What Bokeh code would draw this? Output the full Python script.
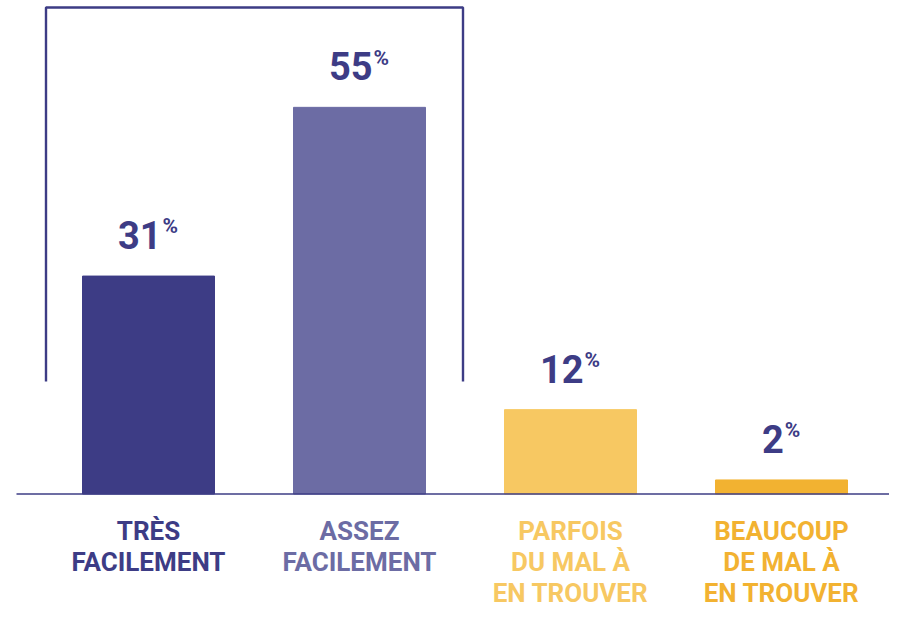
from bokeh.plotting import figure
from bokeh.models import ColumnDataSource, Range1d
from bokeh.core.properties import value
from bokeh.embed import file_html
from bokeh.resources import INLINE

# ---- data ----
categories = ["TRÈS\nFACILEMENT", "ASSEZ\nFACILEMENT", "PARFOIS\nDU MAL À\nEN TROUVER", "BEAUCOUP\nDE MAL À\nEN TROUVER"]
values = [31, 55, 12, 2]
bar_colors = ["#3d3c85", "#6c6ca4", "#f7c862", "#f2b231"]
label_colors = ["#3d3c85", "#6c6ca4", "#f7c862", "#f2b231"]
pct_labels = ["31", "55", "12", "2"]

DARK = "#3d3c85"
FONT = "Roboto"
BASE_FIX = 0.37  # renderer places 'alphabetic' baseline lower by ~0.37 em

W, H = 889, 609
px_per_unit = 211.0
px_per_pct = 7.03
x_start = -148 / px_per_unit
x_end = x_start + W / px_per_unit
y_top = 493.5 / px_per_pct
y_bot = y_top - H / px_per_pct

p = figure(width=W, height=H, output_backend="svg", toolbar_location=None,
           x_range=Range1d(x_start, x_end), y_range=Range1d(y_bot, y_top),
           min_border=0, min_border_left=0, min_border_right=0,
           min_border_top=0, min_border_bottom=0)
p.axis.visible = False
p.grid.visible = False
p.outline_line_color = None
p.background_fill_color = "white"
p.border_fill_color = "white"

xs = list(range(len(values)))
src = ColumnDataSource(dict(x=xs, top=values, color=bar_colors))
p.vbar(x="x", top="top", bottom=0, width=132 / px_per_unit, color="color", source=src)

# baseline
p.segment(x0=[(16 - 148) / px_per_unit], y0=[0], x1=[x_end], y1=[0],
          line_color=DARK, line_width=1.3)

# bracket around the first two bars
bx0 = (45.5 - 148) / px_per_unit
bx1 = (462.5 - 148) / px_per_unit
by0 = (493.5 - 381) / px_per_pct
by1 = (493.5 - 7) / px_per_pct
p.line(x=[bx0, bx0, bx1, bx1], y=[by0, by1, by1, by0], line_color=DARK, line_width=2.4)

# percentage labels: number + superscript %
num_size = 38
pct_size = 21
digit_w = 0.562 * num_size
pct_w = 0.75 * pct_size
for i, (v, t) in enumerate(zip(values, pct_labels)):
    wn = digit_w * len(t)
    right = (wn - pct_w - 1) / 2
    p.text(x=[i], y=[v], text=[t], text_font=value(FONT), text_font_style="bold",
           text_font_size=f"{num_size}px", text_color=DARK, text_align="right",
           text_baseline="alphabetic", x_offset=right,
           y_offset=-27 - BASE_FIX * num_size)
    p.text(x=[i], y=[v], text=["%"], text_font=value(FONT), text_font_style="bold",
           text_font_size=f"{pct_size}px", text_color=DARK, text_align="left",
           text_baseline="alphabetic", x_offset=right + 1,
           y_offset=-42 - BASE_FIX * pct_size)

# category labels (multi-line)
lab_size = 26
for i, (cat, col) in enumerate(zip(categories, label_colors)):
    for j, line in enumerate(cat.split("\n")):
        p.text(x=[i], y=[0], text=[line], text_font=value(FONT), text_font_style="bold",
               text_font_size=f"{lab_size}px", text_color=col, text_align="center",
               text_baseline="alphabetic",
               y_offset=47 + 31 * j - BASE_FIX * lab_size)

open("out.html", "w").write(file_html(p, INLINE))
